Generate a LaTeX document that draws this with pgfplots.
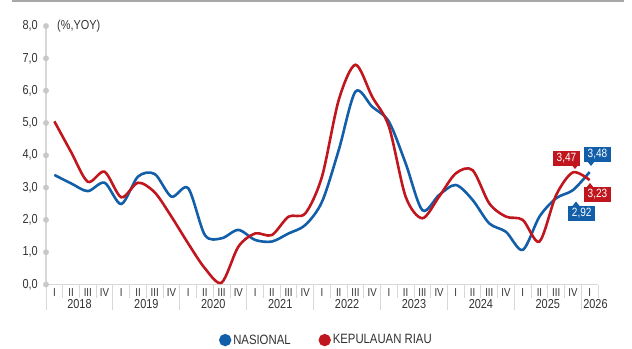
\documentclass[border=0pt]{standalone}
\usepackage{pgfplots}
\pgfplotsset{compat=1.18}
\usepackage{fontspec}
\setmainfont{Liberation Sans}[FakeStretch=0.84]
\definecolor{nblue}{RGB}{18,94,168}
\definecolor{kred}{RGB}{192,22,30}
\definecolor{axgray}{RGB}{216,216,216}
\definecolor{dotgray}{RGB}{200,200,200}
\definecolor{txt}{RGB}{50,50,50}
\definecolor{topgray}{RGB}{168,168,168}
\begin{document}
\begin{tikzpicture}
\path[use as bounding box] (0bp,0bp) rectangle (632bp,-349bp);
\fill[topgray] (12bp,0bp) rectangle (624bp,-2bp);
\begin{axis}[
  at={(46bp,-284.5bp)}, anchor=south west,
  scale only axis, width=552bp, height=258.5bp,
  xmin=0, xmax=33, ymin=0, ymax=8,
  axis lines=none, clip=false,
  legend style={at={(0.508,-0.215)}, anchor=center, draw=none, fill=none,
    font=\fontsize{13.5bp}{15bp}\selectfont\color{txt}, legend columns=2,
    /tikz/every even column/.append style={column sep=26bp},
    legend cell align=left},
  legend image code/.code={\fill (-1bp,0bp) circle (4.8bp);},
]
% axis lines
\draw[axgray, line width=1.3bp] (axis cs:0,0) -- (axis cs:0,8);
\draw[axgray, line width=1.3bp] (axis cs:0,0) -- (axis cs:33,0);
\addplot[only marks, mark=*, mark size=2.7bp, dotgray, forget plot] coordinates {
(0,0) (0,1) (0,2) (0,3) (0,4) (0,5) (0,6) (0,7) (0,8)};
% y tick labels
\pgfplotsinvokeforeach{0,...,8}{
  \node[anchor=east, txt, font=\fontsize{13bp}{15bp}\selectfont, inner sep=0pt] at ([xshift=-8bp]axis cs:0,#1) {#1,0};
}
\node[anchor=west, txt, font=\fontsize{13bp}{15bp}\selectfont, inner sep=0pt] at ([xshift=11bp]axis cs:0,8) {(\%,YOY)};
% quarter separators
\pgfplotsinvokeforeach{1,2,3,5,6,7,9,10,11,13,14,15,17,18,19,21,22,23,25,26,27,29,30,31,33}{
  \draw[axgray, line width=1bp] (axis cs:#1,0) -- ([yshift=-13bp]axis cs:#1,0);
}
\pgfplotsinvokeforeach{0,4,8,12,16,20,24,28,32}{
  \draw[axgray, line width=1bp] (axis cs:#1,0) -- ([yshift=-25bp]axis cs:#1,0);
}
% quarter labels
\pgfplotsinvokeforeach{0,4,8,12,16,20,24,28}{
  \node[txt, font=\fontsize{11.5bp}{13bp}\selectfont, inner sep=0pt] at ([yshift=-8bp]axis cs:#1+0.5,0) {I};
  \node[txt, font=\fontsize{11.5bp}{13bp}\selectfont, inner sep=0pt] at ([yshift=-8bp]axis cs:#1+1.5,0) {II};
  \node[txt, font=\fontsize{11.5bp}{13bp}\selectfont, inner sep=0pt] at ([yshift=-8bp]axis cs:#1+2.5,0) {III};
  \node[txt, font=\fontsize{11.5bp}{13bp}\selectfont, inner sep=0pt] at ([yshift=-8bp]axis cs:#1+3.5,0) {IV};
}
\node[txt, font=\fontsize{11.5bp}{13bp}\selectfont, inner sep=0pt] at ([yshift=-8bp]axis cs:32.5,0) {I};
% year labels
\node[txt, font=\fontsize{13bp}{15bp}\selectfont, inner sep=0pt] at ([yshift=-19.5bp]axis cs:2,0) {2018};
\node[txt, font=\fontsize{13bp}{15bp}\selectfont, inner sep=0pt] at ([yshift=-19.5bp]axis cs:6,0) {2019};
\node[txt, font=\fontsize{13bp}{15bp}\selectfont, inner sep=0pt] at ([yshift=-19.5bp]axis cs:10,0) {2020};
\node[txt, font=\fontsize{13bp}{15bp}\selectfont, inner sep=0pt] at ([yshift=-19.5bp]axis cs:14,0) {2021};
\node[txt, font=\fontsize{13bp}{15bp}\selectfont, inner sep=0pt] at ([yshift=-19.5bp]axis cs:18,0) {2022};
\node[txt, font=\fontsize{13bp}{15bp}\selectfont, inner sep=0pt] at ([yshift=-19.5bp]axis cs:22,0) {2023};
\node[txt, font=\fontsize{13bp}{15bp}\selectfont, inner sep=0pt] at ([yshift=-19.5bp]axis cs:26,0) {2024};
\node[txt, font=\fontsize{13bp}{15bp}\selectfont, inner sep=0pt] at ([yshift=-19.5bp]axis cs:30,0) {2025};
\node[txt, font=\fontsize{13bp}{15bp}\selectfont, inner sep=0pt] at ([yshift=-19.5bp]axis cs:32.85,0) {2026};
% data
\addplot[nblue, line width=2.6bp, smooth] coordinates {
(0.5,3.39) (1.5,3.13) (2.5,2.89) (3.5,3.15)
(4.5,2.49) (5.5,3.34) (6.5,3.42) (7.5,2.72)
(8.5,2.98) (9.5,1.53) (10.5,1.43) (11.5,1.69)
(12.5,1.38) (13.5,1.33) (14.5,1.58) (15.5,1.84)
(16.5,2.56) (17.5,4.16) (18.5,5.97) (19.5,5.50)
(20.5,5.04) (21.5,3.75) (22.5,2.30) (23.5,2.77)
(24.5,3.08) (25.5,2.62) (26.5,1.89) (27.5,1.63)
(28.5,1.07) (29.5,2.10) (30.5,2.67) (31.5,2.92)
(32.5,3.48)};
\addlegendentry{NASIONAL}
\addplot[kred, line width=2.6bp, smooth] coordinates {
(0.5,5.05) (1.5,4.10) (2.5,3.18) (3.5,3.49)
(4.5,2.70) (5.5,3.15) (6.5,2.85) (7.5,2.10)
(8.5,1.27) (9.5,0.50) (10.5,0.06) (11.5,1.17)
(12.5,1.58) (13.5,1.53) (14.5,2.10) (15.5,2.20)
(16.5,3.34) (17.5,5.71) (18.5,6.80) (19.5,5.81)
(20.5,4.89) (21.5,2.72) (22.5,2.05) (23.5,2.72)
(24.5,3.44) (25.5,3.54) (26.5,2.51) (27.5,2.10)
(28.5,2.00) (29.5,1.33) (30.5,2.77) (31.5,3.47)
(32.5,3.23)};
\addlegendentry{KEPULAUAN RIAU}
\end{axis}
% value labels
\tikzset{vbox/.style={rectangle, text=white, inner sep=0pt, minimum width=27bp, minimum height=15bp, font=\fontsize{12bp}{13bp}\selectfont}}
\fill[kred] (571bp,-164bp) -- (579bp,-164bp) -- (575bp,-169bp) -- cycle;
\node[vbox, fill=kred] at (566.5bp,-158bp) {3,47};
\fill[nblue] (587bp,-161bp) -- (595bp,-161bp) -- (591bp,-166bp) -- cycle;
\node[vbox, fill=nblue] at (597.5bp,-154.5bp) {3,48};
\fill[kred] (586bp,-188bp) -- (594bp,-188bp) -- (590bp,-183bp) -- cycle;
\node[vbox, fill=kred] at (597.5bp,-194.5bp) {3,23};
\fill[nblue] (572bp,-206.5bp) -- (580bp,-206.5bp) -- (576bp,-201.5bp) -- cycle;
\node[vbox, fill=nblue] at (581.7bp,-213bp) {2,92};
\end{tikzpicture}
\end{document}
